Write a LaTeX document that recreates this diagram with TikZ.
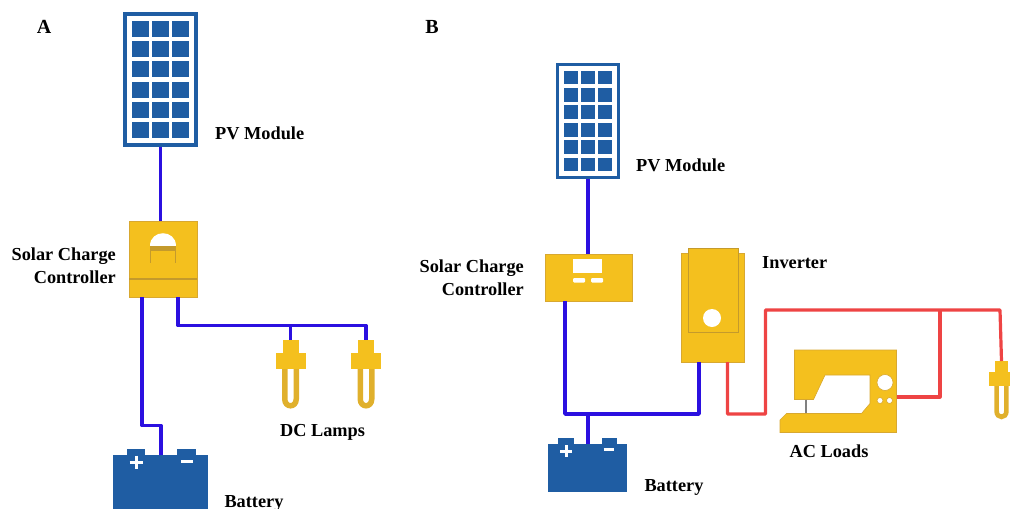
\documentclass[tikz,border=0pt]{standalone}
\usepackage{fontspec}
\setmainfont{Liberation Serif}
\usepackage{xcolor}
\usetikzlibrary{positioning}

\definecolor{panelblue}{HTML}{1F5DA3}
\definecolor{gold}{HTML}{F4C01E}
\definecolor{goldedge}{HTML}{D8A830}
\definecolor{goldshade}{HTML}{C49A2C}
\definecolor{bulbgold}{HTML}{E0B02C}
\definecolor{dcblue}{HTML}{2B10E0}
\definecolor{acred}{HTML}{EE4444}

% name, centre, scale
\newcommand{\pvpanel}[3]{
    \begin{scope}[shift={#2}, scale=#3]
        \node (#1) [panelbox, transform shape, line width={4pt*#3}] at (0,0) {};
        \foreach \col in {-1,0,1}
            \foreach \row in {0,...,5}
                \fill [panelblue] (\col*20.1-8.2,\row*20.2-58.5) rectangle ++(16.4,16);
    \end{scope}
}
% name, top of the neck, scale
\newcommand{\lamp}[3]{
    \begin{scope}[shift={#2}, scale=#3]
        \draw [line width={5.5pt*#3}, bulbgold] (-5.75,28) -- (-5.75,59) .. controls (-5.75,68) and (5.75,68) .. (5.75,59) -- (5.75,28);
        \node (#1) [lampneck, transform shape, anchor=north] at (0,0) {};
        \fill [gold] (-15,13) rectangle (15,29);
    \end{scope}
}
% name, centre, terminals, width, height
\newcommand{\battery}[5]{
    \node (#1) [batterybody, minimum width=#4, minimum height=#5] at #2 {};
    \foreach \a/\b in {#3} \fill [panelblue] ([xshift=\a]#1.north) rectangle ([xshift=\b,yshift=6pt]#1.north);
}

\begin{document}
\begin{tikzpicture}[x=1pt, y=-1pt]
    \tikzstyle{label} = [font=\fontsize{18.3}{20}\selectfont\bfseries, inner sep=0pt]
    \tikzstyle{twolines} = [label, align=right, anchor=east, font=\fontsize{18.3}{23}\selectfont\bfseries]
    \tikzstyle{panelbox} = [rectangle, draw=panelblue, fill=white, minimum width=71pt, minimum height=131pt, outer sep=2pt, inner sep=0pt]
    \tikzstyle{goldbox} = [rectangle, draw=goldedge, line width=0.6pt, fill=gold, inner sep=0pt, outer sep=0pt]
    \tikzstyle{lampneck} = [rectangle, fill=gold, minimum width=16pt, minimum height=14pt, inner sep=0pt, outer sep=0pt]
    \tikzstyle{batterybody} = [rectangle, fill=panelblue, inner sep=0pt, outer sep=0pt]
    \tikzstyle{dcwire} = [draw=dcblue, line width=3.6pt, line join=round]
    \tikzstyle{acwire} = [draw=acred, line width=3.2pt, line join=round]
    \tikzstyle{sign} = [white, line width=3pt]

    \path [use as bounding box, clip] (0,0) rectangle (1010,509);

    % left system
    \node (titleA) [label, font=\fontsize{20}{24}\selectfont\bfseries] at (44,27) {A};
    \pvpanel{pvA}{(160.5,79.5)}{1}
    \node (pvlabelA) [label, anchor=west] at (215,133) {PV Module};

    \node (ccA) [goldbox, minimum width=68pt, minimum height=76pt] at (163,259) {};
    \fill [goldshade] (ccA.west |- 0,278) rectangle (ccA.east |- 0,280);
    \fill [white] (150,245.5) .. controls (150,229) and (176,229) .. (176,245.5);
    \draw [goldshade, line width=1.5pt] (150.5,250) -- (150.5,263) (175.5,250) -- (175.5,263);
    \fill [goldshade] (150,245.5) rectangle (176,250.5);
    \node (cclabelA) [twolines, left=13pt of ccA.west, yshift=-6.5pt] {Solar Charge\\Controller};

    \lamp{lampA}{(290.5,340)}{1}
    \lamp{lampB}{(366,340)}{1}
    \node (dclabel) [label] at (322.5,432) {DC Lamps};

    \battery{batA}{(160.5,482.5)}{-34/-16,16.5/35}{95pt}{55pt}
    \draw [sign] (129.5,462) -- (142.5,462) (136,455.5) -- (136,468.5);
    \draw [sign] (181,461) -- (193,461);
    \node (batlabelA) [label] at (254,503) {Battery};

    \coordinate (bendA) at (161,425.5);
    \coordinate (busA) at (178,325.5);
    \draw [dcwire] (pvA.south) -- (pvA.south |- ccA.north);
    \draw [dcwire] ([xshift=-21pt]ccA.south) |- (bendA) -- (batA.north -| bendA);
    \draw [dcwire] ([xshift=15pt]ccA.south) -- (busA) -| (lampB.north);
    \draw [dcwire] (lampA.north |- busA) -- (lampA.north);

    % right system
    \node (titleB) [label, font=\fontsize{20}{24}\selectfont\bfseries] at (432,27) {B};
    \pvpanel{pvB}{(588,121)}{0.86}
    \node (pvlabelB) [label, anchor=west] at (636,165) {PV Module};

    \node (ccB) [goldbox, minimum width=87pt, minimum height=47pt] at (588.5,277.5) {};
    \fill [white] (573,259) rectangle (602,273);
    \fill [white, rounded corners=1pt] (573,278) rectangle (585,282.5) (591,278) rectangle (603,282.5);
    \node (cclabelB) [twolines, left=21pt of ccB.west] {Solar Charge\\Controller};

    \battery{batB}{(587.5,468)}{-29.5/-13.5,14.5/29.5}{79pt}{48pt}
    \draw [sign] (560,451) -- (572,451) (566,445) -- (566,457);
    \draw [sign] (603.5,449.5) -- (614,449.5);
    \node (batlabelB) [label] at (674,487) {Battery};

    \node (inv) [goldbox, minimum width=63pt, minimum height=109pt] at (712.5,307.5) {};
    \node (invfront) [goldbox, draw=goldshade, minimum width=50pt, minimum height=84pt] at (713,290) {};
    \fill [white] (712,318) circle (9);
    \node (invlabel) [label, anchor=west] at (762,263) {Inverter};

    % sewing machine
    \filldraw [draw=goldedge, line width=0.6pt, fill=gold] (794.5,350) -- (896.5,350) -- (896.5,432.5) -- (780,432.5) -- (780,420) -- (786.5,413.5) -- (861.5,413.5) -- (870,403.5) -- (870,375) -- (825,375) -- (813.5,399.5) -- (794.5,399.5) -- cycle;
    \node (load) [rectangle, minimum width=102pt, minimum height=82.5pt, inner sep=0pt, outer sep=0pt] at (845.5,391.25) {};
    \draw [gray, line width=2pt] (806,399.5) -- (806,413);
    \filldraw [draw=goldedge, line width=0.6pt, fill=white] (885,382.5) circle (8) (880,400.5) circle (3) (889.5,400.5) circle (3);
    \node (loadlabel) [label] at (829,451) {AC Loads};

    \lamp{lampC}{(1001.5,361)}{0.85}

    \coordinate (joinB) at (588,414);
    \coordinate (riseB) at (765.5,414);
    \coordinate (busB) at (765.5,310);
    \coordinate (cornerB) at (1000,310);
    \coordinate (dropB) at (940,310);
    \coordinate (loadin) at (940,397);

    \draw [dcwire] (pvB.south) -- (pvB.south |- ccB.north);
    \draw [dcwire] ([xshift=-23.5pt]ccB.south) |- (joinB);
    \draw [dcwire] (joinB) -| ([xshift=-13.5pt]inv.south);
    \draw [dcwire] (joinB) -- (joinB |- batB.north);

    \draw [acwire] ([xshift=15pt]inv.south) |- (riseB) -- (busB) -- (cornerB) -- (lampC.north);
    \draw [acwire] (dropB) -- (loadin) -- (load.east |- loadin);
\end{tikzpicture}
\end{document}
